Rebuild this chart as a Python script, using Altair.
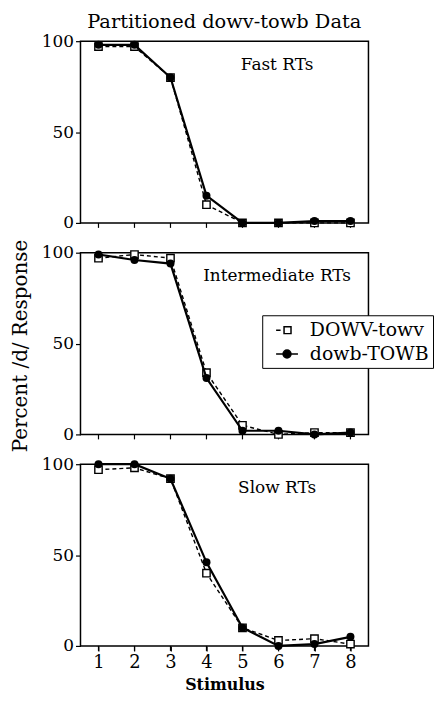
import altair as alt
import pandas as pd

stimulus = [1, 2, 3, 4, 5, 6, 7, 8]
panels = ["Fast RTs", "Intermediate RTs", "Slow RTs"]
series_names = ["DOWV-towv", "dowb-TOWB"]

fast_dowv = [97, 97, 80, 10, 0, 0, 0, 0]
fast_dowb = [98, 98, 80, 15, 0, 0, 1, 1]
inter_dowv = [97, 99, 97, 34, 5, 0, 1, 1]
inter_dowb = [99, 96, 94, 31, 2, 2, 0, 1]
slow_dowv = [97, 98, 92, 40, 10, 3, 4, 1]
slow_dowb = [100, 100, 92, 46, 10, 0, 1, 5]

y_ticks = [0, 50, 100]

rows = []
for panel, a, b in zip(panels, [fast_dowv, inter_dowv, slow_dowv], [fast_dowb, inter_dowb, slow_dowb]):
    for s, va, vb in zip(stimulus, a, b):
        rows.append({"panel": panel, "series": series_names[0], "stimulus": s, "pct": va})
        rows.append({"panel": panel, "series": series_names[1], "stimulus": s, "pct": vb})
df = pd.DataFrame(rows)

FONT = "DejaVu Serif"
W, H = 290, 183

x = alt.X("stimulus:Q",
          scale=alt.Scale(domain=[0.5, 8.5], nice=False, zero=False),
          axis=alt.Axis(values=stimulus, title="Stimulus", format="d",
                        labelFontSize=18, titleFontSize=16, titleFontWeight="bold",
                        labelPadding=3, titlePadding=5, tickSize=5))
y = alt.Y("pct:Q",
          scale=alt.Scale(domain=[0, 100], nice=False),
          axis=alt.Axis(values=y_ticks, title=None, labelFontSize=17,
                        labelPadding=2, tickSize=5))

base = alt.Chart()
is_v = alt.datum.series == series_names[0]
is_b = alt.datum.series == series_names[1]

ticks = base.mark_rule(color="black", strokeWidth=1.2).encode(
    x=x, y=alt.value(H), y2=alt.value(H + 5)).transform_filter(is_b)

v_line = base.mark_line(color="black", strokeWidth=1.4, strokeDash=[4, 3]).encode(
    x=x, y=y).transform_filter(is_v)
v_pts = base.mark_point(shape="square", filled=True, fill="white", stroke="black",
                        strokeWidth=1.4, size=55, opacity=1).encode(
    x=x, y=y).transform_filter(is_v)
b_line = base.mark_line(color="black", strokeWidth=2.2).encode(
    x=x, y=y).transform_filter(is_b)
b_pts = base.mark_point(shape="circle", filled=True, color="black", size=65, opacity=1).encode(
    x=x, y=y).transform_filter(is_b)

labels = base.mark_text(font=FONT, fontSize=17, align="center", baseline="middle",
                        color="black").encode(
    x=alt.value(198), y=alt.value(24), text="panel:N").transform_filter(
    (alt.datum.stimulus == 1) & is_b)

path_v = "M-1.1,0H-0.65M-0.3,-0.35H0.4V0.35H-0.3Z"
path_b = "M-1.1,0H1.1M0.4,0A0.4,0.4 0 1,1 -0.4,0A0.4,0.4 0 1,1 0.4,0Z"
leg = alt.Legend(title=None, orient="none", legendX=183, legendY=276,
                 strokeColor="black", fillColor="white", padding=4,
                 labelFont=FONT, labelFontSize=19, labelLimit=300,
                 symbolSize=400, symbolStrokeWidth=1.5, symbolStrokeColor="black",
                 symbolOpacity=1, rowPadding=3, labelOffset=12, symbolOffset=10)
legend_layer = base.mark_point(filled=True, stroke="black", strokeWidth=1.5, opacity=1).encode(
    x=x, y=y,
    shape=alt.Shape("series:N", scale=alt.Scale(domain=series_names, range=[path_v, path_b]), legend=leg),
    fill=alt.Fill("series:N", scale=alt.Scale(domain=series_names, range=["white", "black"]), legend=leg),
    stroke=alt.Stroke("series:N", scale=alt.Scale(domain=series_names, range=["black", "black"]), legend=leg),
).transform_filter("false")

layer = alt.layer(ticks, v_line, v_pts, b_line, b_pts, labels, legend_layer).properties(width=W, height=H)

chart = layer.facet(
    row=alt.Row("panel:N", sort=panels,
                header=alt.Header(labels=False, title="Percent /d/ Response",
                                  titleFont=FONT, titleFontSize=20, titleFontWeight="normal",
                                  titleColor="black", titlePadding=0)),
    data=df, spacing=30, bounds="flush",
).properties(
    title=alt.TitleParams("Partitioned dowv-towb Data", font=FONT, fontSize=19.5,
                          fontWeight="normal", color="black", offset=0, anchor="middle", dx=2),
    padding={"left": 2, "top": 1, "right": 0, "bottom": 0},
).configure_view(stroke="black", strokeWidth=1.5).configure_axis(
    domain=False, grid=False, tickColor="black", labelColor="black", titleColor="black",
    labelFont=FONT, titleFont=FONT, tickWidth=1.2,
)

chart.save("out.html", embed_options={"renderer": "svg", "actions": False})
